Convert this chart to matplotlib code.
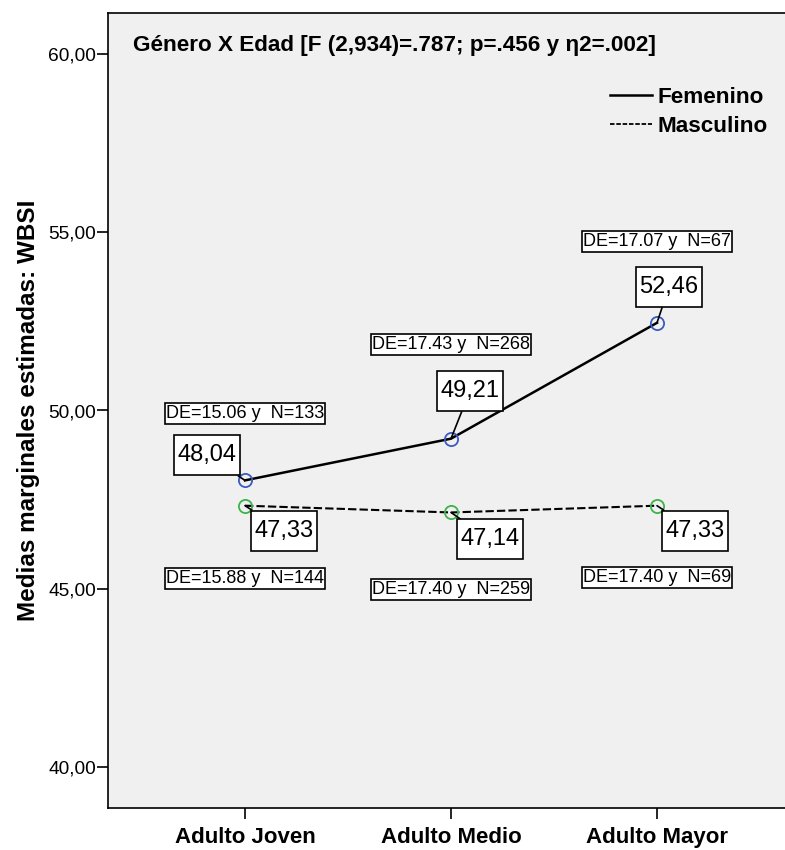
import matplotlib
matplotlib.use("Agg")
import matplotlib.pyplot as plt
from matplotlib.lines import Line2D
from matplotlib.path import Path

# ---- data ----
categories = ["Adulto Joven", "Adulto Medio", "Adulto Mayor"]
femenino = [48.04, 49.21, 52.46]
masculino = [47.33, 47.14, 47.33]
fem_labels = ["48,04", "49,21", "52,46"]
mas_labels = ["47,33", "47,14", "47,33"]
fem_de = ["DE=15.06 y  N=133", "DE=17.43 y  N=268", "DE=17.07 y  N=67"]
mas_de = ["DE=15.88 y  N=144", "DE=17.40 y  N=259", "DE=17.40 y  N=69"]
yticks = [40, 45, 50, 55, 60]
ytick_labels = ["40,00", "45,00", "50,00", "55,00", "60,00"]
title = "Género X Edad [F (2,934)=.787; p=.456 y η2=.002]"
ylabel = "Medias marginales estimadas: WBSI"
series_names = ["Femenino", "Masculino"]

BOLD = ["Liberation Sans", "DejaVu Sans"]
REG = ["Liberation Sans", "DejaVu Sans"]


def make_box(px, py):
    def box(x0, y0, width, height, mutation_size):
        dx = px * mutation_size
        dy = py * mutation_size
        x0, y0 = x0 - dx, y0 - dy
        x1, y1 = x0 + width + 2 * dx, y0 + height + 2 * dy
        return Path([(x0, y0), (x1, y0), (x1, y1), (x0, y1), (x0, y0)], closed=True)
    return box


fig = plt.figure(figsize=(7.85, 8.5), dpi=100)
ax = fig.add_axes([108/785, 42/850, 686/785, 795/850])
ax.set_facecolor("#f0f0f0")
for s in ax.spines.values():
    s.set_color("black")
    s.set_linewidth(1.2)

x = list(range(len(categories)))
ax.plot(x, femenino, color="black", lw=1.8, ls="-", zorder=3)
ax.plot(x, masculino, color="black", lw=1.5, ls=(0, (4, 1.5)), zorder=3)
ax.plot(x, femenino, ls="none", marker="o", ms=9.5, mfc="none", mec="#3a5bbf", mew=1.3, zorder=4)
ax.plot(x, masculino, ls="none", marker="o", ms=9.5, mfc="none", mec="#3cb44b", mew=1.3, zorder=4)

ax.set_xlim(-0.665, 2.665)
ax.set_ylim(38.85, 61.15)
ax.set_xticks(x)
ax.set_xticklabels(categories, fontfamily=BOLD, fontweight="bold", fontsize=16)
ax.set_yticks(yticks)
ax.set_yticklabels(ytick_labels, fontfamily=REG, fontsize=13.8)
ax.tick_params(axis="both", direction="out", length=8, width=1.2, color="black")
ax.tick_params(axis="x", pad=6)
ax.tick_params(axis="y", pad=0.5)
ax.set_ylabel(ylabel, fontfamily=BOLD, fontweight="bold", fontsize=17.5, labelpad=6)

ax.text(25/686, 1 - 32/795, title, transform=ax.transAxes, ha="left", va="center",
        fontfamily=BOLD, fontweight="bold", fontsize=16.2)

handles = [Line2D([], [], color="black", lw=1.8, ls="-"),
           Line2D([], [], color="black", lw=1.3, ls=(0, (2.5, 1)))]
ax.legend(handles, series_names, loc="upper left", bbox_to_anchor=((610-108)/686, (808-87)/795),
          frameon=False, borderpad=0, borderaxespad=0, handlelength=1.85, handletextpad=0.25,
          labelspacing=0.35, prop={"family": BOLD, "weight": "bold", "size": 16.2})

vbox = dict(boxstyle=make_box(0.14, 0.38), fc="white", ec="black", lw=1.2)
debox = dict(boxstyle=make_box(0.06, 0.12), fc="white", ec="black", lw=1.2)
arrow = dict(arrowstyle="-", color="black", lw=1.2, shrinkA=0, shrinkB=0)

fem_off = [(-38, 25), (19, 48), (12, 36)]
mas_off = [(39, -25), (39, -27), (38, -25)]
fem_de_off = [(0, 67), (0, 94), (0, 81)]
mas_de_off = [(0, -73), (0, -77), (0, -72)]

for i in x:
    ax.annotate(fem_labels[i], xy=(i, femenino[i]), xytext=fem_off[i], textcoords="offset pixels",
                ha="center", va="center", fontsize=17, fontfamily=REG, bbox=vbox, arrowprops=arrow, zorder=5)
    ax.annotate(mas_labels[i], xy=(i, masculino[i]), xytext=mas_off[i], textcoords="offset pixels",
                ha="center", va="center", fontsize=17, fontfamily=REG, bbox=vbox, arrowprops=arrow, zorder=5)
    ax.annotate(fem_de[i], xy=(i, femenino[i]), xytext=fem_de_off[i], textcoords="offset pixels",
                ha="center", va="center", fontsize=13, fontfamily=REG, bbox=debox, zorder=5)
    ax.annotate(mas_de[i], xy=(i, masculino[i]), xytext=mas_de_off[i], textcoords="offset pixels",
                ha="center", va="center", fontsize=13, fontfamily=REG, bbox=debox, zorder=5)

fig.savefig("out.png", dpi=100)
